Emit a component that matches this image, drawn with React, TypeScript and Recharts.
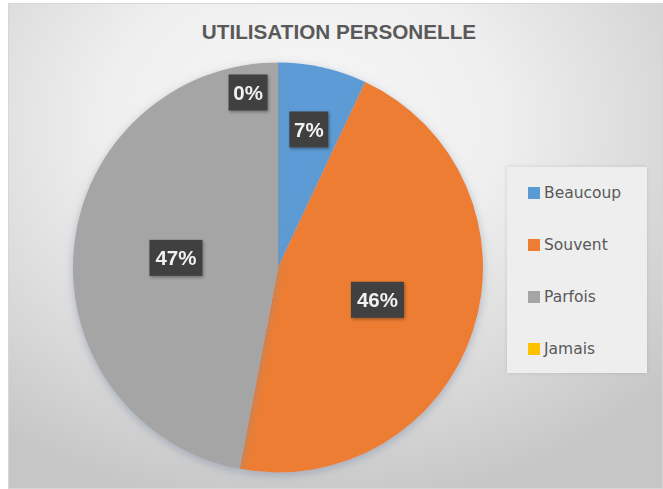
import { Cell, Legend, Pie, PieChart } from 'recharts'

const categories = ['Beaucoup', 'Souvent', 'Parfois', 'Jamais']
const shares = [7, 46, 47, 0]
const labels = ['7%', '46%', '47%', '0%']
const colors = ['#5B9BD5', '#ED7D31', '#A5A5A5', '#FFC000']

const title = 'UTILISATION PERSONELLE'

// label placement, as Excel's "best fit" put them
const labelRadius = [0.69, 0.51, 0.5, 0.866]
const labelNudge = [0, 0, 0, 9.7]

const data = categories.map((name, i) => ({ name, value: shares[i], fill: colors[i] }))

const RADIAN = Math.PI / 180

interface LabelProps {
  cx: number
  cy: number
  midAngle: number
  outerRadius: number
  index: number
}

function BoxLabel({ cx, cy, midAngle, outerRadius, index }: LabelProps) {
  const r = outerRadius * labelRadius[index]
  const a = (midAngle + labelNudge[index]) * RADIAN
  const x = cx + r * Math.cos(a)
  const y = cy - r * Math.sin(a)
  const text = labels[index]
  const w = text.length * 14 + 11
  return (
    <g filter="url(#lblShadow)">
      <rect x={x - w / 2} y={y - 18} width={w} height={36} fill="#404040" />
      <text
        x={x}
        y={y}
        textAnchor="middle"
        dominantBaseline="central"
        fill="#f2f2f2"
        fontFamily="Liberation Sans, Arial, sans-serif"
        fontWeight="bold"
        fontSize={20.5}
      >
        {text}
      </text>
    </g>
  )
}

function LegendBox({ payload }: { payload?: { value?: string; color?: string }[] }) {
  const items = [...(payload ?? [])].sort(
    (a, b) => categories.indexOf(String(a.value)) - categories.indexOf(String(b.value)),
  )
  return (
    <div
      style={{
        width: 140,
        height: 206,
        background: '#eeeeee',
        boxShadow: '0 0 4px rgba(0,0,0,0.12)',
        boxSizing: 'border-box',
        fontFamily: 'DejaVu Sans, sans-serif',
        fontSize: 15.5,
        color: '#595959',
      }}
    >
      {items.map((p) => (
        <div key={p.value} style={{ display: 'flex', alignItems: 'center', height: 52 }}>
          <span
            style={{
              display: 'inline-block',
              width: 12,
              height: 12,
              marginLeft: 21,
              marginRight: 4,
              background: colors[categories.indexOf(String(p.value))] ?? p.color,
            }}
          />
          <span>{p.value}</span>
        </div>
      ))}
    </div>
  )
}

export default function App() {
  return (
    <div style={{ position: 'absolute', left: 0, top: 0, width: 663, height: 489, background: '#ffffff' }}>
      <div
        style={{
          position: 'absolute',
          left: 8,
          top: 3,
          width: 655,
          height: 486,
          background:
            'radial-gradient(ellipse 75% 80% at 45% 25%, #f7f7f7 0%, #efefef 40%, #d8d8d8 75%, #c6c6c6 100%)',
          boxShadow: 'inset 0 0 0 1px #d6d6d6',
        }}
      />
      <div
        style={{
          position: 'absolute',
          left: 0,
          top: 20,
          width: 678,
          textAlign: 'center',
          fontFamily: 'Liberation Sans, Arial, sans-serif',
          fontWeight: 'bold',
          fontSize: 20.7,
          color: '#595959',
        }}
      >
        {title}
      </div>
      <PieChart
        width={663}
        height={489}
        margin={{ top: 0, right: 0, bottom: 0, left: 0 }}
        style={{ position: 'absolute', left: 0, top: 0 }}
      >
        <defs>
          <filter id="pieShadow" x="-20%" y="-20%" width="140%" height="140%">
            <feGaussianBlur in="SourceAlpha" stdDeviation="5" />
            <feOffset dx="0" dy="3" result="b" />
            <feFlood floodColor="#7f8fa6" floodOpacity="0.55" />
            <feComposite in2="b" operator="in" />
            <feMerge>
              <feMergeNode />
              <feMergeNode in="SourceGraphic" />
            </feMerge>
          </filter>
          <filter id="lblShadow" x="-30%" y="-30%" width="160%" height="160%">
            <feDropShadow dx="1" dy="1.5" stdDeviation="1.5" floodColor="#000" floodOpacity="0.35" />
          </filter>
        </defs>
        <Pie
          data={data}
          dataKey="value"
          nameKey="name"
          cx={278}
          cy={267.5}
          outerRadius={205}
          startAngle={90}
          endAngle={-270}
          stroke="none"
          label={BoxLabel}
          labelLine={false}
          isAnimationActive={false}
          style={{ filter: 'url(#pieShadow)' }}
        >
          {data.map((d) => (
            <Cell key={d.name} fill={d.fill} />
          ))}
        </Pie>
        <Legend
          layout="vertical"
          itemSorter={null}
          content={<LegendBox />}
          wrapperStyle={{ position: 'absolute', left: 507, top: 167, width: 140, height: 206 }}
        />
      </PieChart>
    </div>
  )
}
